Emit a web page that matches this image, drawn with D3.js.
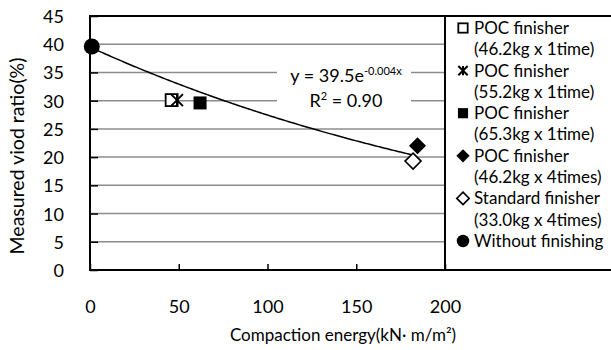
<!DOCTYPE html>
<html>
<head>
    <style>
        body, html { margin: 0; padding: 0; background: #fff; }
        svg text { font-family: Lato, "Open Sans", sans-serif; fill: #000; }
    </style>
    <script src="https://d3js.org/d3.v7.min.js"></script>
</head>
<body>
<svg id="chart" width="611" height="350"></svg>
<script>
// data
const seriesNames = ['POC finisher', 'POC finisher', 'POC finisher', 'POC finisher', 'Standard finisher', 'Without finishing'];
const seriesNotes = ['(46.2kg x 1time)', '(55.2kg x 1time)', '(65.3kg x 1time)', '(46.2kg x 4times)', '(33.0kg x 4times)', ''];
const seriesSymbols = ['squareOpen', 'asterisk', 'squareFilled', 'diamondFilled', 'diamondOpen', 'circle'];
const energyValues = [46, 49, 62, 184.5, 182, 1];
const voidValues = [30.1, 30.1, 29.6, 22.0, 19.3, 39.6];
const xTicks = [0, 50, 100, 150, 200];
const yTicks = [0, 5, 10, 15, 20, 25, 30, 35, 40, 45];
// trendline as drawn (label shows rounded coefficient)
const fitA = 39.5, fitB = -0.00364, fitEnd = 182;

const svg = d3.select('#chart');
const plot = { left: 90, right: 445, top: 16, bottom: 270 };

const x = d3.scaleLinear().domain([0, 200]).range([plot.left, plot.right]);
const y = d3.scaleLinear().domain([0, 45]).range([plot.bottom, plot.top]);

// gridlines
svg.append('g')
    .selectAll('line')
    .data(yTicks.filter(t => t > 0 && t < 45))
    .enter().append('line')
    .attr('x1', plot.left).attr('x2', plot.right)
    .attr('y1', d => y(d)).attr('y2', d => y(d))
    .attr('stroke', '#8c8c8c').attr('stroke-width', 1.5);

// equation label with white backing
const eqX = 346;
svg.append('rect').attr('x', 277).attr('y', 62).attr('width', 134).attr('height', 48).attr('fill', '#fff');
const eq = svg.append('text').attr('x', eqX).attr('y', 82).attr('text-anchor', 'middle').style('font-size', '18px');
eq.append('tspan').text('y = 39.5e');
eq.append('tspan').attr('dy', -7).style('font-size', '11px').text('-0.004x');
const r2 = svg.append('text').attr('x', eqX).attr('y', 107).attr('text-anchor', 'middle').style('font-size', '18px');
r2.append('tspan').text('R');
r2.append('tspan').attr('dy', -7).style('font-size', '11px').text('2');
r2.append('tspan').attr('dy', 7).text(' = 0.90');

// axes
const yAxis = d3.axisLeft(y).tickValues(yTicks).tickSize(-8).tickPadding(26);
svg.append('g').attr('transform', `translate(${plot.left},0)`).call(yAxis)
    .call(g => g.select('.domain').remove())
    .call(g => g.selectAll('line').attr('stroke', '#000').attr('stroke-width', 1.5))
    .call(g => g.selectAll('text').style('font-size', '18px').attr('dy', '0.36em'));

const xAxis = d3.axisBottom(x).tickValues(xTicks).tickSize(-6).tickPadding(30);
svg.append('g').attr('transform', `translate(0,${plot.bottom})`).call(xAxis)
    .call(g => g.select('.domain').remove())
    .call(g => g.selectAll('line').attr('stroke', '#000').attr('stroke-width', 1.5))
    .call(g => g.selectAll('text').style('font-size', '18px'));

// frame
svg.append('rect')
    .attr('x', plot.left).attr('y', plot.top)
    .attr('width', plot.right - plot.left).attr('height', plot.bottom - plot.top)
    .attr('fill', 'none').attr('stroke', '#000').attr('stroke-width', 2);

// legend box
svg.append('rect')
    .attr('x', plot.right).attr('y', plot.top)
    .attr('width', 180).attr('height', plot.bottom - plot.top)
    .attr('fill', 'none').attr('stroke', '#000').attr('stroke-width', 2);

// trendline
const fitPts = d3.range(0, fitEnd + 0.1, 1).map(e => [e, fitA * Math.exp(fitB * e)]);
svg.append('path')
    .datum(fitPts)
    .attr('d', d3.line().x(d => x(d[0])).y(d => y(d[1])))
    .attr('fill', 'none').attr('stroke', '#000').attr('stroke-width', 1.5);

function drawSymbol(g, kind, cx, cy, k) {
    if (kind === 'squareOpen') {
        const s = 6 * k;
        g.append('rect').attr('x', cx - s).attr('y', cy - s).attr('width', 2 * s).attr('height', 2 * s)
            .attr('fill', '#fff').attr('stroke', '#000').attr('stroke-width', 1.8);
    } else if (kind === 'squareFilled') {
        const s = 6.5 * k;
        g.append('rect').attr('x', cx - s).attr('y', cy - s).attr('width', 2 * s).attr('height', 2 * s).attr('fill', '#000');
    } else if (kind === 'asterisk') {
        const s = 6 * k;
        g.append('path')
            .attr('d', `M${cx - s},${cy - s}L${cx + s},${cy + s}M${cx + s},${cy - s}L${cx - s},${cy + s}M${cx},${cy - s}L${cx},${cy + s}`)
            .attr('stroke', '#000').attr('stroke-width', 2).attr('fill', 'none');
    } else if (kind === 'diamondFilled') {
        const s = 8.5 * k;
        g.append('path').attr('d', `M${cx},${cy - s}L${cx + s},${cy}L${cx},${cy + s}L${cx - s},${cy}Z`).attr('fill', '#000');
    } else if (kind === 'diamondOpen') {
        const s = 8 * k;
        g.append('path').attr('d', `M${cx},${cy - s}L${cx + s},${cy}L${cx},${cy + s}L${cx - s},${cy}Z`)
            .attr('fill', '#fff').attr('stroke', '#000').attr('stroke-width', 1.6);
    } else if (kind === 'circle') {
        g.append('circle').attr('cx', cx).attr('cy', cy).attr('r', 8 * k).attr('fill', '#000');
    }
}

// points
const pts = svg.append('g');
seriesSymbols.forEach((s, i) => drawSymbol(pts, s, x(energyValues[i]), y(voidValues[i]), 1));

// legend entries
const leg = svg.append('g');
const legTop = 28, legStep = 42.6;
seriesNames.forEach((name, i) => {
    const ly = legTop + i * legStep;
    const g = leg.append('g');
    drawSymbol(g, seriesSymbols[i], 463, ly, 0.78);
    g.append('text').attr('x', 474).attr('y', ly).attr('dy', '0.35em').style('font-size', '17px').text(name);
    if (seriesNotes[i]) {
        g.append('text').attr('x', 474).attr('y', ly + legStep / 2).attr('dy', '0.35em').style('font-size', '17px').text(seriesNotes[i]);
    }
});

// axis titles
svg.append('text').attr('x', 343).attr('y', 341).attr('text-anchor', 'middle').style('font-size', '17px')
    .text('Compaction energy(kN\u00B7 m/m\u00B2)');
svg.append('text').attr('transform', 'translate(24,156) rotate(-90)').attr('text-anchor', 'middle').style('font-size', '19.5px')
    .text('Measured viod ratio(%)');
</script>
</body>
</html>
